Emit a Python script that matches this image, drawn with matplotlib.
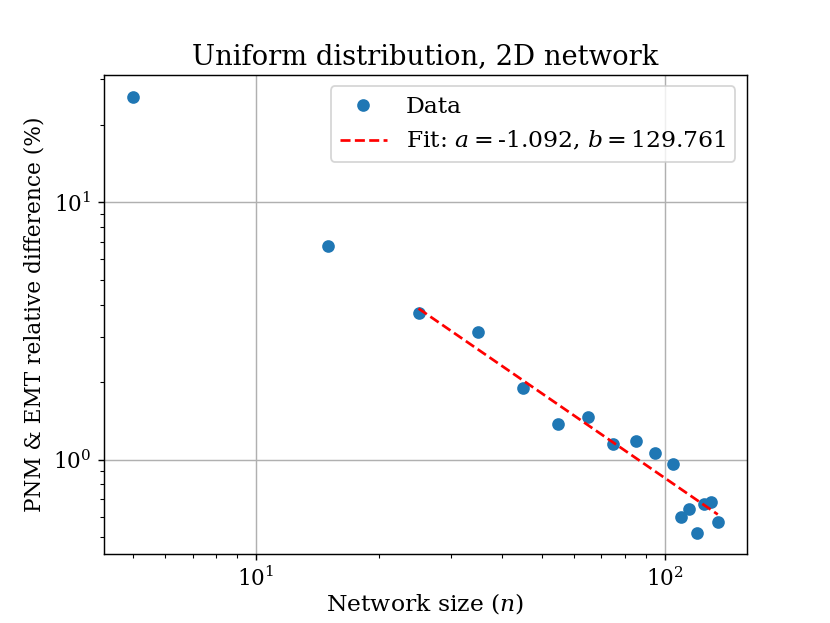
import matplotlib
matplotlib.use("Agg")
import matplotlib.pyplot as plt
import numpy as np

plt.rcParams['font.family'] = ['DejaVu Serif']
plt.rcParams['mathtext.fontset'] = 'dejavuserif'
plt.rcParams['font.size'] = 12

network_size = [5, 15, 25, 35, 45, 55, 65, 75, 85, 95, 105, 110, 115, 120, 125, 130, 135]
rel_diff = [25.7, 6.73, 3.72, 3.13, 1.90, 1.374, 1.463, 1.153, 1.184, 1.057, 0.958,
            0.600, 0.645, 0.520, 0.670, 0.684, 0.570]
fit_a = -1.092
fit_b = 129.761
fit_start = 2

fig, ax = plt.subplots(figsize=(8.3 / 1.3, 6.23 / 1.3), dpi=130)

x = np.array(network_size, dtype=float)
y = np.array(rel_diff)
ax.plot(x, y, 'o', label='Data')
xf = x[fit_start:]
ax.plot(xf, fit_b * xf ** fit_a, 'r--',
        label='Fit: $a = $' + f'{fit_a:.3f}, ' + '$b = $' + f'{fit_b:.3f}')

ax.set_xscale('log')
ax.set_yscale('log')
ax.grid(True)

ax.set_title('Uniform distribution, 2D network', fontsize=15.2)
ax.set_xlabel('Network size ($n$)', fontsize=13, labelpad=0)
ax.set_ylabel('PNM & EMT relative difference (%)', fontsize=12)
ax.legend(loc='upper right', fontsize=13)

fig.savefig('out.png', dpi=130)
